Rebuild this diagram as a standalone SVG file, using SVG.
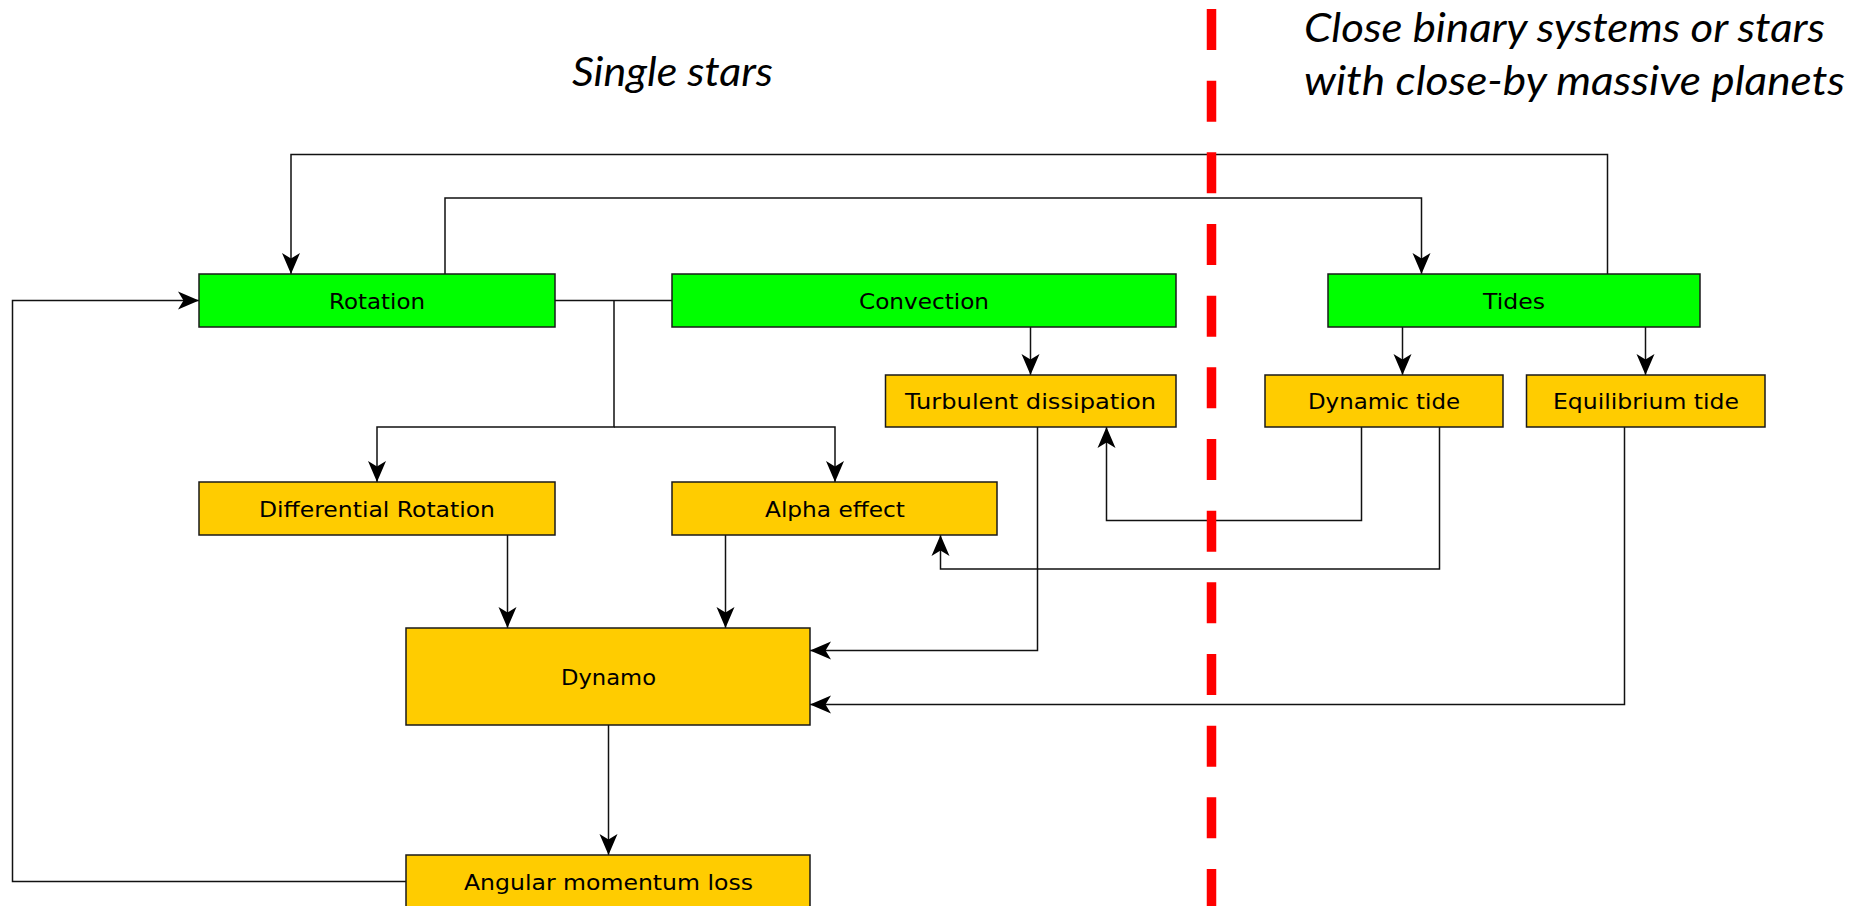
<svg xmlns="http://www.w3.org/2000/svg" width="1863" height="906" viewBox="0 0 1863 906">
<style>
.box{stroke:#1a1a1a;stroke-width:1.5}
.green{fill:#00FF00}
.orange{fill:#FFCC00}
.lbl{font-family:"DejaVu Sans","Liberation Sans",sans-serif;font-size:21px;fill:#000;text-anchor:middle}
.title{font-family:Lato,"Open Sans","Liberation Sans",sans-serif;font-style:italic;font-size:41px;fill:#000}
.conn path{fill:none;stroke:#111;stroke-width:1.5}
.arr{marker-end:url(#ah)}
</style>
<defs>
<marker id="ah" markerUnits="userSpaceOnUse" viewBox="0 -10 22 20" markerWidth="22" markerHeight="20" refX="21" refY="0" orient="auto">
<path d="M0,-9 L21,0 L0,9 L5.5,0 Z" fill="#000"/>
</marker>
</defs>
<rect width="1863" height="906" fill="#fff"/>

<text class="title" x="572" y="86" textLength="201" lengthAdjust="spacingAndGlyphs">Single stars</text>
<text class="title" x="1304" y="42" textLength="521" lengthAdjust="spacingAndGlyphs">Close binary systems or stars</text>
<text class="title" x="1304" y="95" textLength="541" lengthAdjust="spacingAndGlyphs">with close-by massive planets</text>

<g class="conn">
<path class="arr" d="M1607.5,274 V154.5 H291 V274"/>
<path class="arr" d="M445,274 V198 H1421.5 V274"/>
<path d="M555,300.5 H672"/>
<path class="arr" d="M614,300.5 V427 H377 V482"/>
<path class="arr" d="M614,427 H835 V482"/>
<path class="arr" d="M1030.5,327 V375"/>
<path class="arr" d="M1402.5,327 V375"/>
<path class="arr" d="M1645.5,327 V375"/>
<path class="arr" d="M507.5,535 V628"/>
<path class="arr" d="M725.5,535 V628"/>
<path class="arr" d="M1037.5,427 V650.5 H810"/>
<path class="arr" d="M1624.5,427 V704.5 H810"/>
<path class="arr" d="M1361.5,427 V520.5 H1106.5 V427"/>
<path class="arr" d="M1439.5,427 V569 H940.5 V535"/>
<path class="arr" d="M608.5,725 V855"/>
<path class="arr" d="M406,881.5 H12.5 V300.5 H199"/>
</g>

<g id="rotation"><rect class="box green" x="199" y="274" width="356" height="53"/><text class="lbl" x="377" y="308.5" textLength="96" lengthAdjust="spacingAndGlyphs">Rotation</text></g>
<g id="convection"><rect class="box green" x="672" y="274" width="504" height="53"/><text class="lbl" x="924" y="308.5" textLength="130" lengthAdjust="spacingAndGlyphs">Convection</text></g>
<g id="tides"><rect class="box green" x="1328" y="274" width="372" height="53"/><text class="lbl" x="1514" y="308.5" textLength="62" lengthAdjust="spacingAndGlyphs">Tides</text></g>
<g id="turbulent"><rect class="box orange" x="885.5" y="375" width="290.5" height="52"/><text class="lbl" x="1030.5" y="409" textLength="251" lengthAdjust="spacingAndGlyphs">Turbulent dissipation</text></g>
<g id="dynamic-tide"><rect class="box orange" x="1265" y="375" width="238" height="52"/><text class="lbl" x="1384" y="409" textLength="152" lengthAdjust="spacingAndGlyphs">Dynamic tide</text></g>
<g id="equilibrium-tide"><rect class="box orange" x="1526.5" y="375" width="238.5" height="52"/><text class="lbl" x="1646" y="409" textLength="186" lengthAdjust="spacingAndGlyphs">Equilibrium tide</text></g>
<g id="differential-rotation"><rect class="box orange" x="199" y="482" width="356" height="53"/><text class="lbl" x="377" y="516.5" textLength="236" lengthAdjust="spacingAndGlyphs">Differential Rotation</text></g>
<g id="alpha-effect"><rect class="box orange" x="672" y="482" width="325" height="53"/><text class="lbl" x="835" y="516.5" textLength="140" lengthAdjust="spacingAndGlyphs">Alpha effect</text></g>
<g id="dynamo"><rect class="box orange" x="406" y="628" width="404" height="97"/><text class="lbl" x="608.5" y="685" textLength="95" lengthAdjust="spacingAndGlyphs">Dynamo</text></g>
<g id="angular-momentum-loss"><rect class="box orange" x="406" y="855" width="404" height="53"/><text class="lbl" x="608.5" y="890" textLength="289" lengthAdjust="spacingAndGlyphs">Angular momentum loss</text></g>

<line id="divider" x1="1211.5" y1="9" x2="1211.5" y2="906" stroke="#FF0000" stroke-width="9.5" stroke-dasharray="41 30.67"/>
</svg>
